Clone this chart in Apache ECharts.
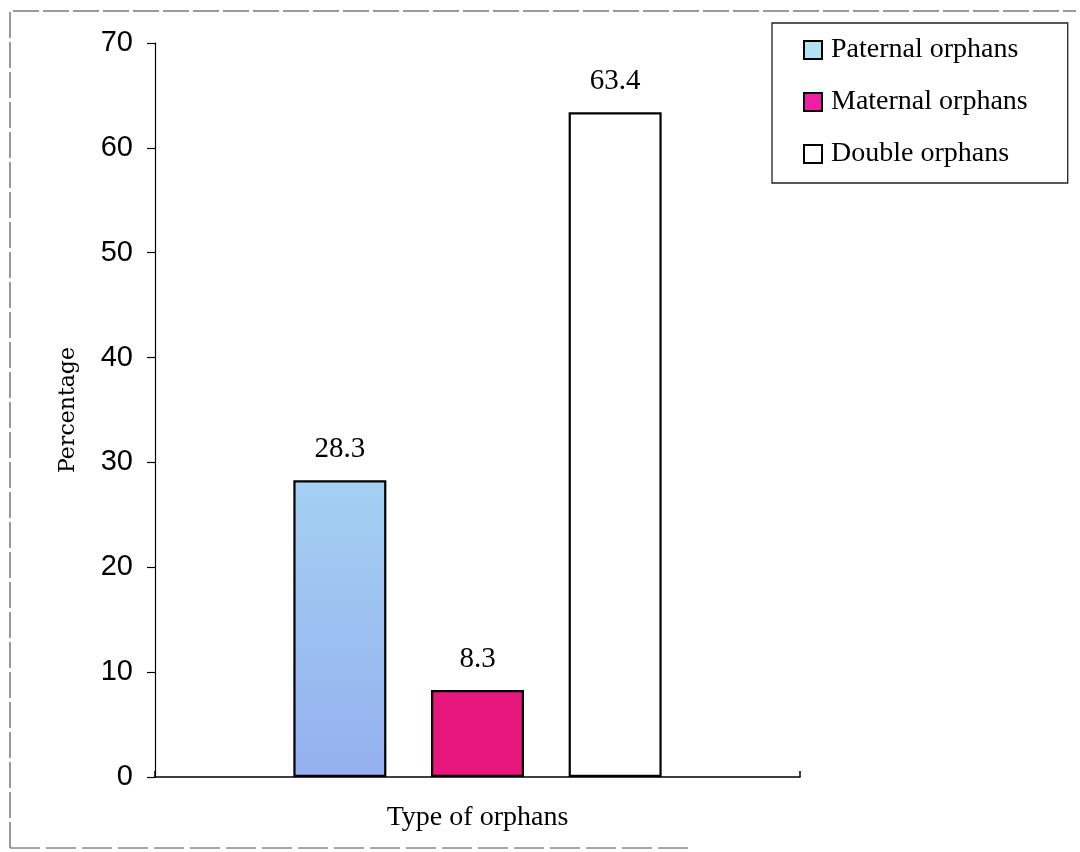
<!DOCTYPE html>
<html>
<head>
<meta charset="utf-8">
<script src="https://cdn.jsdelivr.net/npm/echarts@6/dist/echarts.min.js"></script>
<style>
html,body{margin:0;padding:0;background:#fff;}
#chart{width:1080px;height:852px;}
</style>
</head>
<body>
<div id="chart"></div>
<script>
const categories = [''];
const seriesNames = ['Paternal orphans', 'Maternal orphans', 'Double orphans'];
const paternal = [28.3];
const maternal = [8.3];
const double = [63.4];
const yTicks = [0, 10, 20, 30, 40, 50, 60, 70];

const serif = "'Liberation Serif','Times New Roman',Times,serif";
const sans = "'Liberation Sans',Arial,Helvetica,sans-serif";

const chart = echarts.init(document.getElementById('chart'), null, {renderer: 'canvas'});

const labelCfg = {
  show: true, position: 'top', distance: 16,
  fontFamily: serif, fontSize: 29, color: '#000',
  formatter: p => p.value.toFixed(1)
};

const blueGrad = {type: 'linear', x: 0, y: 0, x2: 0, y2: 1,
  colorStops: [{offset: 0, color: '#a4d0f2'}, {offset: 1, color: '#94b0ef'}]};

chart.setOption({
  animation: false,
  backgroundColor: '#fff',
  grid: {left: 155, right: 280, top: 43, bottom: 75, containLabel: false},
  legend: {
    orient: 'vertical',
    left: 772, top: 23,
    padding: [12, 40, 14, 31],
    borderColor: '#222', borderWidth: 1.3,
    itemWidth: 18, itemHeight: 18, itemGap: 22,
    icon: 'rect',
    textStyle: {fontFamily: serif, fontSize: 28, color: '#000', lineHeight: 30, padding: [0, 0, 0, 4]},
    data: [
      {name: seriesNames[0], itemStyle: {color: '#b3e2f3', borderColor: '#000', borderWidth: 2}},
      {name: seriesNames[1], itemStyle: {color: '#ee1fa6', borderColor: '#000', borderWidth: 2}},
      {name: seriesNames[2], itemStyle: {color: '#fff', borderColor: '#000', borderWidth: 2}}
    ]
  },
  xAxis: {
    type: 'category',
    data: categories,
    name: 'Type of orphans',
    nameLocation: 'middle',
    nameGap: 27,
    nameTextStyle: {fontFamily: serif, fontSize: 28, color: '#000'},
    axisLine: {lineStyle: {color: '#000', width: 1.5}},
    axisTick: {show: true, inside: true, length: 6, lineStyle: {color: '#000', width: 1.5}},
    axisLabel: {show: false},
    splitLine: {show: false}
  },
  yAxis: {
    type: 'value',
    min: 0, max: 70, interval: 10,
    name: 'Percentage',
    nameLocation: 'middle',
    nameGap: 76,
    nameTextStyle: {fontFamily: "'DejaVu Serif',serif", fontSize: 22, color: '#000'},
    axisLine: {show: true, lineStyle: {color: '#000', width: 1.2}},
    axisTick: {show: true, length: 8, lineStyle: {color: '#000', width: 1.2}},
    axisLabel: {
      fontFamily: sans, fontSize: 29, color: '#000', margin: 22,
      formatter: v => yTicks.includes(v) ? String(v) : ''
    },
    splitLine: {show: false}
  },
  series: [
    {name: seriesNames[0], type: 'bar', data: paternal, barWidth: 93, barGap: '48%',
     itemStyle: {color: blueGrad, borderColor: '#000', borderWidth: 2.2}, label: labelCfg},
    {name: seriesNames[1], type: 'bar', data: maternal, barWidth: 93, barGap: '48%',
     itemStyle: {color: '#e8177e', borderColor: '#000', borderWidth: 2.2}, label: labelCfg},
    {name: seriesNames[2], type: 'bar', data: double, barWidth: 93, barGap: '48%',
     itemStyle: {color: '#fff', borderColor: '#000', borderWidth: 2.2}, label: labelCfg}
  ],
  graphic: [
    {type: 'polyline', silent: true, z: -1,
     shape: {points: [[10, 848], [10, 11], [1076, 11]]},
     style: {fill: null, stroke: '#7a7a7a', lineWidth: 1.5, lineDash: [26, 4]}},
    {type: 'line', silent: true, z: -1,
     shape: {x1: 10, y1: 848, x2: 690, y2: 848},
     style: {stroke: '#8a8a8a', lineWidth: 1.5, lineDash: [30, 6]}}
  ]
});
</script>
</body>
</html>
